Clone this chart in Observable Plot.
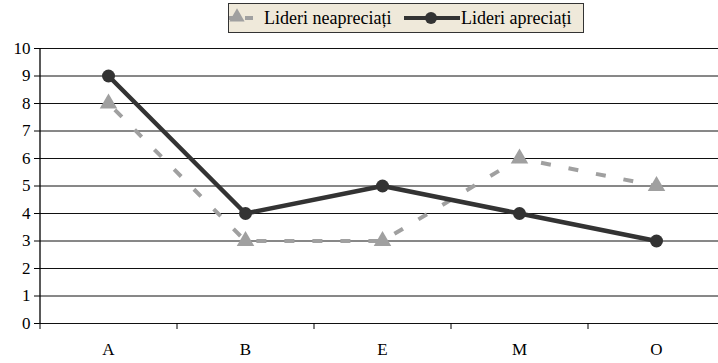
<!DOCTYPE html>
<html><head><meta charset="utf-8">
<script src="https://cdn.jsdelivr.net/npm/d3@7"></script>
<script src="https://cdn.jsdelivr.net/npm/@observablehq/plot@0.6"></script>
<style>
body{margin:0;background:#fff;}
#wrap{position:relative;width:718px;height:363px;}
#legend{position:absolute;left:228px;top:3px;width:354px;height:28px;background:#efe9da;border:1px solid #333;box-sizing:content-box;font-family:"Times New Roman","Liberation Serif",serif;font-size:18px;white-space:nowrap;}
#legend svg, #legend span{position:absolute;display:block}
#legend span{top:3px;line-height:22px}
</style></head>
<body><div id="wrap"><div id="legend"></div><div id="chart"></div></div>
<script>
const categories = ["A","B","E","M","O"];
const neapreciati = [8,3,3,6,5];
const apreciati = [9,4,5,4,3];
const yTicks = [0,1,2,3,4,5,6,7,8,9,10];
const seriesNames = ["Lideri neapreciați","Lideri apreciați"];

const grayC = "#a0a0a0", darkC = "#333333";
const rowsN = categories.map((c,i)=>({cat:c, v:neapreciati[i]}));
const rowsA = categories.map((c,i)=>({cat:c, v:apreciati[i]}));
const step = (724-39)/categories.length;
const serif = "'Times New Roman','Liberation Serif',serif";

const chart = Plot.plot({
  width:718, height:363,
  marginLeft:39, marginRight:0, marginTop:48, marginBottom:40,
  style:{fontFamily:serif, fontSize:"17px", color:"#000", background:"transparent"},
  x:{type:"point", domain:categories, range:[39,724], padding:0.5, axis:null},
  y:{type:"linear", domain:[0,10], range:[323,48], axis:null},
  marks:[
    Plot.ruleY(yTicks, {y:d=>d, stroke:"#111", strokeWidth:1}),
    Plot.ruleX([categories[0]], {x:d=>d, y1:0, y2:10, dx:-step/2, stroke:"#000", strokeWidth:1.3}),
    Plot.axisY({ticks:yTicks, tickSize:5, tickPadding:4, label:null, fontSize:17, fontFamily:serif, stroke:"#000"}),
    Plot.axisX({tickSize:0, tickPadding:19, label:null, fontSize:17, fontFamily:serif}),
    Plot.ruleX(categories, {x:d=>d, y1:0, y2:0, dx:-step/2, insetBottom:-6, stroke:"#000"}),
    Plot.line(rowsN, {x:"cat", y:"v", stroke:grayC, strokeWidth:4, strokeDasharray:"10,18", strokeLinecap:"butt", strokeDashoffset:-9}),
    Plot.dot(rowsN, {x:"cat", y:"v", symbol:"triangle", r:6.5, fill:grayC, stroke:null}),
    Plot.line(rowsA, {x:"cat", y:"v", stroke:darkC, strokeWidth:4.5}),
    Plot.dot(rowsA, {x:"cat", y:"v", r:6.5, fill:darkC, stroke:null})
  ]
});
document.getElementById("chart").appendChild(chart);

const lg = d3.select("#legend");
const s1 = lg.append("svg").attr("width",30).attr("height",28).style("left","0px").style("top","0px");
s1.append("line").attr("x1",0).attr("x2",4).attr("y1",14).attr("y2",14).attr("stroke",grayC).attr("stroke-width",4);
s1.append("line").attr("x1",16).attr("x2",24).attr("y1",14).attr("y2",14).attr("stroke",grayC).attr("stroke-width",4);
s1.append("path").attr("d",d3.symbol(d3.symbolTriangle,100)()).attr("transform","translate(8,13)").attr("fill",grayC);
lg.append("span").text(seriesNames[0]).style("left","35px");
const s2 = lg.append("svg").attr("width",56).attr("height",28).style("left","175px").style("top","0px");
s2.append("line").attr("x1",0).attr("x2",56).attr("y1",14).attr("y2",14).attr("stroke",darkC).attr("stroke-width",4);
s2.append("circle").attr("cx",27).attr("cy",14).attr("r",6).attr("fill",darkC);
lg.append("span").text(seriesNames[1]).style("left","232px");
</script></body></html>
